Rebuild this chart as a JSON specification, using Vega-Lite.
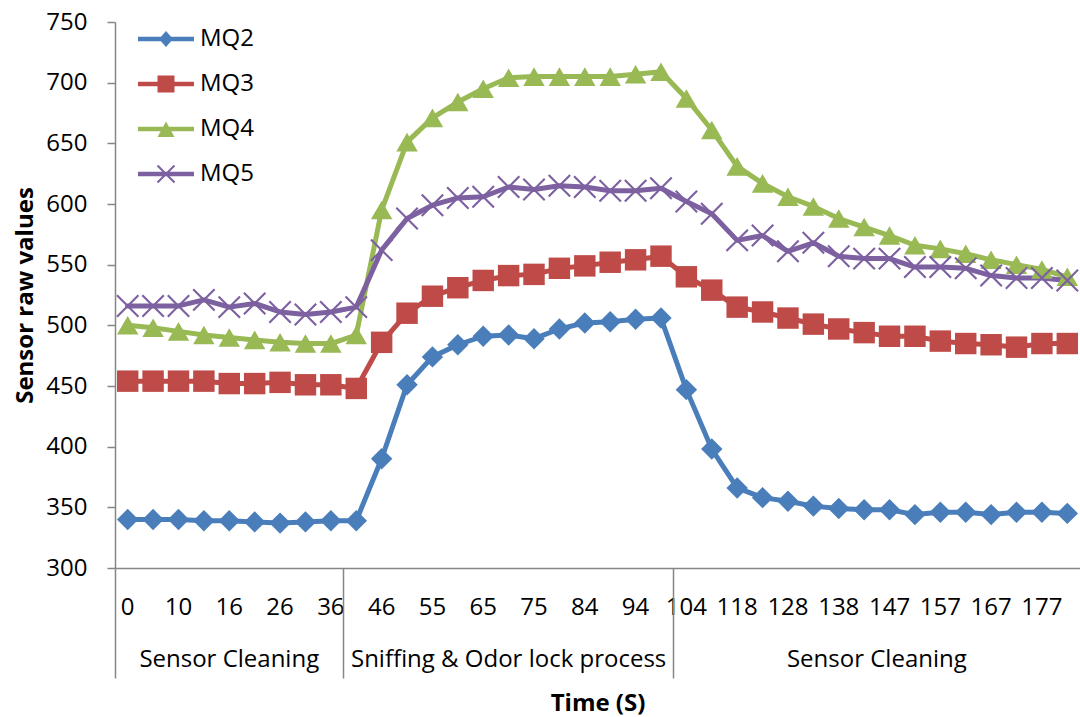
{
  "$schema": "https://vega.github.io/schema/vega-lite/v6.json",
  "width": 965,
  "height": 546,
  "autosize": {"type": "none"},
  "padding": {"left": 115, "top": 22, "right": 0, "bottom": 149},
  "background": "white",
  "config": {"view": {"stroke": null}, "font": "Open Sans"},
  "data": {"values": [
    {"t": "0", "MQ2": 340, "MQ3": 454, "MQ4": 500, "MQ5": 516},
    {"t": "5", "MQ2": 340, "MQ3": 454, "MQ4": 498, "MQ5": 516},
    {"t": "10", "MQ2": 340, "MQ3": 454, "MQ4": 495, "MQ5": 516},
    {"t": "13", "MQ2": 339, "MQ3": 454, "MQ4": 492, "MQ5": 521},
    {"t": "16", "MQ2": 339, "MQ3": 452, "MQ4": 490, "MQ5": 515},
    {"t": "21", "MQ2": 338, "MQ3": 452, "MQ4": 488, "MQ5": 518},
    {"t": "26", "MQ2": 337, "MQ3": 453, "MQ4": 486, "MQ5": 511},
    {"t": "31", "MQ2": 338, "MQ3": 451, "MQ4": 485, "MQ5": 509},
    {"t": "36", "MQ2": 339, "MQ3": 451, "MQ4": 485, "MQ5": 511},
    {"t": "41", "MQ2": 339, "MQ3": 448, "MQ4": 492, "MQ5": 515},
    {"t": "46", "MQ2": 390, "MQ3": 486, "MQ4": 595, "MQ5": 562},
    {"t": "50", "MQ2": 451, "MQ3": 510, "MQ4": 651, "MQ5": 588},
    {"t": "55", "MQ2": 474, "MQ3": 524, "MQ4": 671, "MQ5": 599},
    {"t": "60", "MQ2": 484, "MQ3": 531, "MQ4": 684, "MQ5": 605},
    {"t": "65", "MQ2": 491, "MQ3": 537, "MQ4": 695, "MQ5": 606},
    {"t": "70", "MQ2": 492, "MQ3": 541, "MQ4": 704, "MQ5": 614},
    {"t": "75", "MQ2": 489, "MQ3": 542, "MQ4": 705, "MQ5": 612},
    {"t": "79", "MQ2": 497, "MQ3": 547, "MQ4": 705, "MQ5": 615},
    {"t": "84", "MQ2": 502, "MQ3": 549, "MQ4": 705, "MQ5": 614},
    {"t": "89", "MQ2": 503, "MQ3": 552, "MQ4": 705, "MQ5": 611},
    {"t": "94", "MQ2": 505, "MQ3": 554, "MQ4": 707, "MQ5": 611},
    {"t": "99", "MQ2": 506, "MQ3": 557, "MQ4": 709, "MQ5": 613},
    {"t": "104", "MQ2": 447, "MQ3": 540, "MQ4": 687, "MQ5": 602},
    {"t": "111", "MQ2": 398, "MQ3": 529, "MQ4": 661, "MQ5": 592},
    {"t": "118", "MQ2": 366, "MQ3": 515, "MQ4": 631, "MQ5": 570},
    {"t": "123", "MQ2": 358, "MQ3": 511, "MQ4": 617, "MQ5": 574},
    {"t": "128", "MQ2": 355, "MQ3": 506, "MQ4": 606, "MQ5": 561},
    {"t": "133", "MQ2": 351, "MQ3": 501, "MQ4": 598, "MQ5": 568},
    {"t": "138", "MQ2": 349, "MQ3": 497, "MQ4": 588, "MQ5": 557},
    {"t": "142", "MQ2": 348, "MQ3": 494, "MQ4": 581, "MQ5": 555},
    {"t": "147", "MQ2": 348, "MQ3": 491, "MQ4": 574, "MQ5": 555},
    {"t": "152", "MQ2": 344, "MQ3": 491, "MQ4": 566, "MQ5": 548},
    {"t": "157", "MQ2": 346, "MQ3": 487, "MQ4": 563, "MQ5": 548},
    {"t": "162", "MQ2": 346, "MQ3": 485, "MQ4": 559, "MQ5": 547},
    {"t": "167", "MQ2": 344, "MQ3": 484, "MQ4": 554, "MQ5": 541},
    {"t": "172", "MQ2": 346, "MQ3": 482, "MQ4": 550, "MQ5": 539},
    {"t": "177", "MQ2": 346, "MQ3": 485, "MQ4": 546, "MQ5": 539},
    {"t": "182", "MQ2": 345, "MQ3": 485, "MQ4": 540, "MQ5": 537}
  ]},
  "resolve": {"axis": {"x": "independent"}},
  "layer": [
    {
      "transform": [{"fold": ["MQ2", "MQ3", "MQ4", "MQ5"], "as": ["series", "value"]}],
      "mark": {"type": "line", "strokeWidth": 5, "strokeJoin": "round", "strokeCap": "round"},
      "encoding": {
        "x": {
          "field": "t", "type": "ordinal", "bandPosition": 0.5,
          "scale": {"type": "band", "paddingInner": 0, "paddingOuter": 0,
            "domain": ["0","5","10","13","16","21","26","31","36","41","46","50","55","60","65","70","75","79","84","89","94","99","104","111","118","123","128","133","138","142","147","152","157","162","167","172","177","182"]},
          "axis": {
            "orient": "bottom",
            "values": ["0","10","16","26","36","46","55","65","75","84","94","104","118","128","138","147","157","167","177"],
            "ticks": false, "tickSize": 0, "grid": false,
            "domainColor": "#868686", "domainWidth": 1.5,
            "labelFont": "Open Sans", "labelFontSize": 24, "labelColor": "black",
            "labelAngle": 0, "labelBaseline": "alphabetic", "labelPadding": 46,
            "labelOverlap": false,
            "title": "Time (S)", "titleFont": "Open Sans", "titleFontSize": 24, "titleFontWeight": "bold",
            "titleColor": "black", "titleBaseline": "alphabetic", "titleY": 142
          }
        },
        "y": {
          "field": "value", "type": "quantitative",
          "scale": {"domain": [300, 750], "nice": false, "zero": false},
          "axis": {
            "values": [300, 350, 400, 450, 500, 550, 600, 650, 700, 750],
            "grid": false,
            "domainColor": "#868686", "domainWidth": 1.5,
            "tickColor": "#868686", "tickWidth": 1.5, "tickSize": 8,
            "labelFont": "Open Sans", "labelFontSize": 24, "labelColor": "black", "labelPadding": 20,
            "title": "Sensor raw values", "titleFont": "Open Sans", "titleFontSize": 24, "titleFontWeight": "bold",
            "titleColor": "black", "titleAngle": 270, "titleBaseline": "alphabetic", "titleAlign": "center",
            "titleX": -83, "titleY": 273
          }
        },
        "color": {
          "field": "series", "type": "nominal",
          "scale": {"domain": ["MQ2", "MQ3", "MQ4", "MQ5"], "range": ["#4A7EBB", "#BE4B48", "#98B954", "#7D60A0"]},
          "legend": {
            "orient": "none", "legendX": 39, "legendY": 5, "title": null, "padding": 0,
            "symbolSize": 400, "symbolStrokeWidth": 0, "symbolOpacity": 1,
            "labelFont": "Open Sans", "labelFontSize": 24, "labelColor": "black",
            "labelOffset": 22, "rowPadding": 21,
            "encode": {
              "symbols": {
                "update": {
                  "shape": {"signal": "datum.value === 'MQ2' ? 'M-2.8,-0.22H2.8V0.22H-2.8Z M0,-0.8L0.7,0L0,0.8L-0.7,0Z' : datum.value === 'MQ3' ? 'M-2.8,-0.22H2.8V0.22H-2.8Z M-0.85,-0.85H0.85V0.85H-0.85Z' : datum.value === 'MQ4' ? 'M-2.8,-0.22H2.8V0.22H-2.8Z M0,-0.75L0.85,0.8L-0.85,0.8Z' : 'M-2.8,-0.22H2.8V0.22H-2.8Z M-0.78,-0.92L0.92,0.78L0.78,0.92L-0.92,-0.78Z M-0.78,0.92L-0.92,0.78L0.78,-0.92L0.92,-0.78Z'"},
                  "fill": {"signal": "scale('color', datum.value)"},
                  "strokeWidth": {"value": 0},
                  "opacity": {"value": 1}
                }
              }
            }
          }
        }
      }
    },
    {
      "transform": [{"fold": ["MQ2", "MQ3", "MQ4", "MQ5"], "as": ["series", "value"]}],
      "mark": {"type": "point", "filled": true, "size": 460, "opacity": 1, "strokeWidth": 0},
      "encoding": {
        "x": {"field": "t", "type": "ordinal", "bandPosition": 0.5, "axis": null},
        "y": {"field": "value", "type": "quantitative"},
        "color": {"field": "series", "type": "nominal"},
        "shape": {
          "field": "series", "type": "nominal",
          "scale": {"domain": ["MQ5", "MQ4", "MQ3", "MQ2"], "range": ["M-0.93,-1.07L1.07,0.93L0.93,1.07L-1.07,-0.93Z M-0.93,1.07L-1.07,0.93L0.93,-1.07L1.07,-0.93Z", "triangle-up", "square", "diamond"]},
          "legend": null
        }
      }
    },
    {
      "data": {"values": [
        {"t": "16", "phase": "Sensor Cleaning"},
        {"t": "70", "phase": "Sniffing & Odor lock process"}
      ]},
      "mark": {"type": "text", "font": "Open Sans", "fontSize": 24, "color": "black", "baseline": "alphabetic", "align": "center"},
      "encoding": {
        "x": {
          "field": "t", "type": "ordinal", "bandPosition": 0.5,
          "axis": {
            "orient": "bottom", "values": ["0", "41", "104"], "bandPosition": 0, "tickExtra": false,
            "labels": false, "domain": false, "grid": false, "title": null,
            "ticks": true, "tickSize": 110, "tickColor": "#868686", "tickWidth": 1.5
          }
        },
        "y": {"datum": 218, "type": "quantitative"},
        "text": {"field": "phase"}
      }
    },
    {
      "data": {"values": [
        {"t": "147", "phase": "Sensor Cleaning"}
      ]},
      "mark": {"type": "text", "font": "Open Sans", "fontSize": 24, "color": "black", "baseline": "alphabetic", "align": "center"},
      "encoding": {
        "x": {"field": "t", "type": "ordinal", "bandPosition": 0, "axis": null},
        "y": {"datum": 218, "type": "quantitative"},
        "text": {"field": "phase"}
      }
    }
  ]
}
